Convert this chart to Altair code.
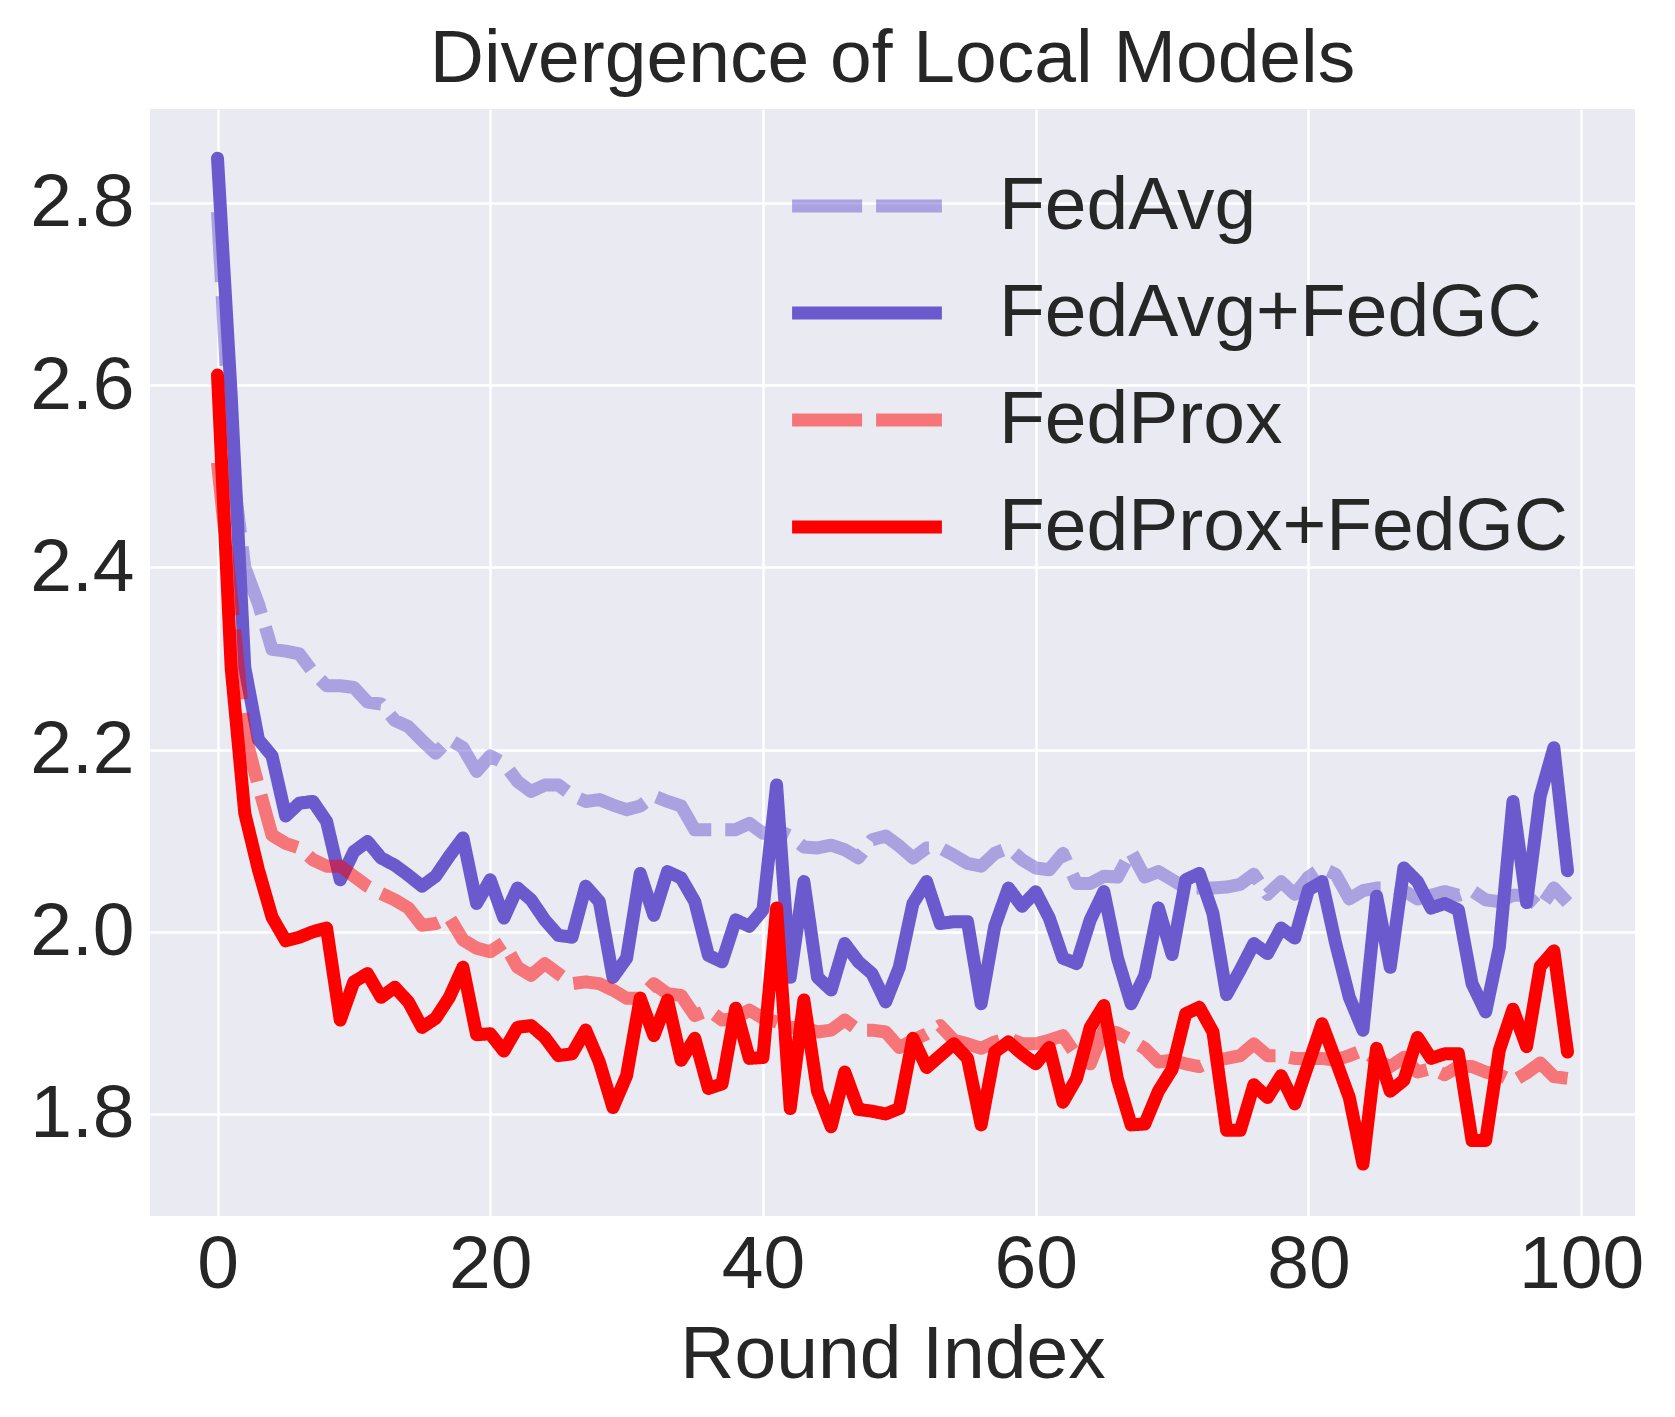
import altair as alt
import pandas as pd

rounds = list(range(100))

fedavg = [2.79, 2.52, 2.40, 2.36, 2.31, 2.308, 2.305, 2.285, 2.27, 2.27,
          2.268, 2.252, 2.25, 2.232, 2.225, 2.21, 2.196, 2.211, 2.202, 2.176,
          2.193, 2.185, 2.165, 2.154, 2.161, 2.161, 2.150, 2.143, 2.145, 2.139,
          2.134, 2.138, 2.149, 2.143, 2.138, 2.112, 2.112, 2.112, 2.112, 2.119,
          2.108, 2.112, 2.105, 2.093, 2.092, 2.095, 2.090, 2.081, 2.101, 2.105,
          2.094, 2.081, 2.092, 2.092, 2.084, 2.075, 2.072, 2.086, 2.092, 2.079,
          2.070, 2.068, 2.086, 2.053, 2.053, 2.061, 2.060, 2.088, 2.060, 2.066,
          2.057, 2.048, 2.048, 2.048, 2.049, 2.052, 2.063, 2.041, 2.055, 2.041,
          2.060, 2.070, 2.063, 2.036, 2.045, 2.048, 2.048, 2.045, 2.036, 2.040,
          2.044, 2.040, 2.045, 2.035, 2.033, 2.040, 2.040, 2.026, 2.048, 2.032]

fedavg_gc = [2.849, 2.59, 2.29, 2.211, 2.193, 2.127, 2.141, 2.143, 2.121, 2.057,
             2.088, 2.099, 2.081, 2.073, 2.062, 2.050, 2.061, 2.083, 2.103, 2.031,
             2.057, 2.015, 2.048, 2.035, 2.013, 1.996, 1.994, 2.050, 2.033, 1.950,
             1.971, 2.064, 2.018, 2.066, 2.059, 2.033, 1.974, 1.967, 2.013, 2.006,
             2.024, 2.161, 1.950, 2.055, 1.950, 1.936, 1.987, 1.967, 1.954, 1.923,
             1.961, 2.031, 2.055, 2.009, 2.011, 2.011, 1.921, 2.006, 2.048, 2.028,
             2.044, 2.015, 1.971, 1.965, 2.013, 2.044, 1.971, 1.921, 1.952, 2.026,
             1.975, 2.057, 2.064, 2.020, 1.931, 1.958, 1.987, 1.976, 2.004, 1.993,
             2.046, 2.055, 1.987, 1.928, 1.892, 2.039, 1.961, 2.070, 2.055, 2.026,
             2.031, 2.024, 1.943, 1.912, 1.983, 2.143, 2.032, 2.149, 2.202, 2.067]

fedprox = [2.515, 2.37, 2.218, 2.160, 2.106, 2.097, 2.092, 2.079, 2.072, 2.072,
           2.061, 2.050, 2.042, 2.035, 2.026, 2.007, 2.009, 2.016, 1.991, 1.982,
           1.978, 1.988, 1.961, 1.952, 1.965, 1.954, 1.943, 1.945, 1.943, 1.936,
           1.927, 1.927, 1.943, 1.932, 1.930, 1.908, 1.914, 1.903, 1.905, 1.914,
           1.905, 1.901, 1.895, 1.895, 1.890, 1.892, 1.903, 1.892, 1.892, 1.890,
           1.873, 1.881, 1.888, 1.897, 1.881, 1.877, 1.872, 1.879, 1.883, 1.877,
           1.877, 1.881, 1.886, 1.864, 1.855, 1.892, 1.889, 1.881, 1.872, 1.857,
           1.859, 1.855, 1.852, 1.859, 1.861, 1.864, 1.877, 1.864, 1.864, 1.861,
           1.861, 1.861, 1.859, 1.864, 1.870, 1.859, 1.852, 1.862, 1.846, 1.850,
           1.843, 1.852, 1.852, 1.846, 1.843, 1.836, 1.845, 1.856, 1.841, 1.839]

fedprox_gc = [2.611, 2.29, 2.13, 2.068, 2.016, 1.990, 1.994, 2.000, 2.004, 1.903,
              1.945, 1.954, 1.928, 1.939, 1.923, 1.895, 1.905, 1.928, 1.961, 1.887,
              1.888, 1.869, 1.895, 1.897, 1.884, 1.864, 1.866, 1.892, 1.857, 1.807,
              1.842, 1.927, 1.886, 1.925, 1.859, 1.883, 1.828, 1.833, 1.916, 1.861,
              1.862, 2.026, 1.806, 1.925, 1.825, 1.786, 1.846, 1.805, 1.803, 1.800,
              1.806, 1.883, 1.851, 1.864, 1.877, 1.861, 1.788, 1.868, 1.879, 1.866,
              1.855, 1.873, 1.813, 1.839, 1.895, 1.919, 1.838, 1.788, 1.789, 1.825,
              1.849, 1.910, 1.917, 1.890, 1.782, 1.782, 1.832, 1.818, 1.842, 1.811,
              1.855, 1.899, 1.859, 1.818, 1.745, 1.872, 1.825, 1.837, 1.884, 1.861,
              1.866, 1.866, 1.771, 1.771, 1.870, 1.915, 1.874, 1.962, 1.979, 1.868]

series_names = ["FedAvg", "FedAvg+FedGC", "FedProx", "FedProx+FedGC"]
series_values = [fedavg, fedavg_gc, fedprox, fedprox_gc]
series_colors = ["rgba(106,90,205,0.5)", "#6A5ACD", "rgba(255,0,0,0.5)", "#FF0000"]
series_dashes = [[70, 14], [1, 0], [70, 14], [1, 0]]
dashed_flags = [True, False, True, False]

x_ticks = [0, 20, 40, 60, 80, 100]
y_ticks = [1.8, 2.0, 2.2, 2.4, 2.6, 2.8]

rows = []
for name, vals in zip(series_names, series_values):
    for r, v in zip(rounds, vals):
        rows.append({"Round": r, "Value": v, "Series": name})
df = pd.DataFrame(rows)

FONT = "Liberation Sans"
TXT = "#262626"
FS = 75

xenc = alt.X("Round:Q",
             scale=alt.Scale(domain=[-4.95, 103.95], nice=False, zero=False),
             axis=alt.Axis(values=x_ticks, title="Round Index", format="d"))
yenc = alt.Y("Value:Q",
             scale=alt.Scale(domain=[1.688, 2.903], nice=False, zero=False),
             axis=alt.Axis(values=y_ticks, title=None, format=".1f"))
cenc = alt.Color("Series:N",
                 scale=alt.Scale(domain=series_names, range=series_colors),
                 legend=alt.Legend(title=None, orient="none", legendX=657, legendY=37,
                                   symbolType="M-1.4,0H1.4", symbolSize=11449,
                                   symbolStrokeWidth=13, labelFontSize=FS,
                                   labelFont=FONT, labelColor=TXT, labelOffset=72,
                                   labelLimit=2000, rowPadding=9, padding=0))
denc = alt.StrokeDash("Series:N",
                      scale=alt.Scale(domain=series_names, range=series_dashes),
                      legend=None)

layers = []
for name, dashed in zip(series_names, dashed_flags):
    layers.append(
        alt.Chart(df)
        .transform_filter(alt.datum.Series == name)
        .mark_line(strokeWidth=13, strokeCap="butt" if dashed else "round",
                   strokeJoin="round")
        .encode(x=xenc, y=yenc, color=cenc, strokeDash=denc)
    )

chart = (
    alt.layer(*layers)
    .properties(
        width=1485, height=1107,
        title=alt.TitleParams("Divergence of Local Models", fontSize=FS, font=FONT,
                              color=TXT, fontWeight="normal", anchor="middle",
                              baseline="alphabetic", offset=24, dy=72),
        autosize=alt.AutoSizeParams(type="none"),
        padding={"left": 142, "top": 101, "right": 20, "bottom": 180},
        background="white",
    )
    .configure_view(fill="#EAEAF2", stroke=None)
    .configure_axis(
        grid=True, gridColor="white", gridWidth=2.5, domain=False, ticks=False,
        labelFontSize=FS, labelFont=FONT, labelColor=TXT,
        titleFontSize=FS, titleFont=FONT, titleColor=TXT, titleFontWeight="normal",
    )
    .configure_axisX(labelPadding=12, titlePadding=16)
    .configure_axisY(labelPadding=16)
)

chart.save("out.html", embed_options={"renderer": "svg", "actions": False})
